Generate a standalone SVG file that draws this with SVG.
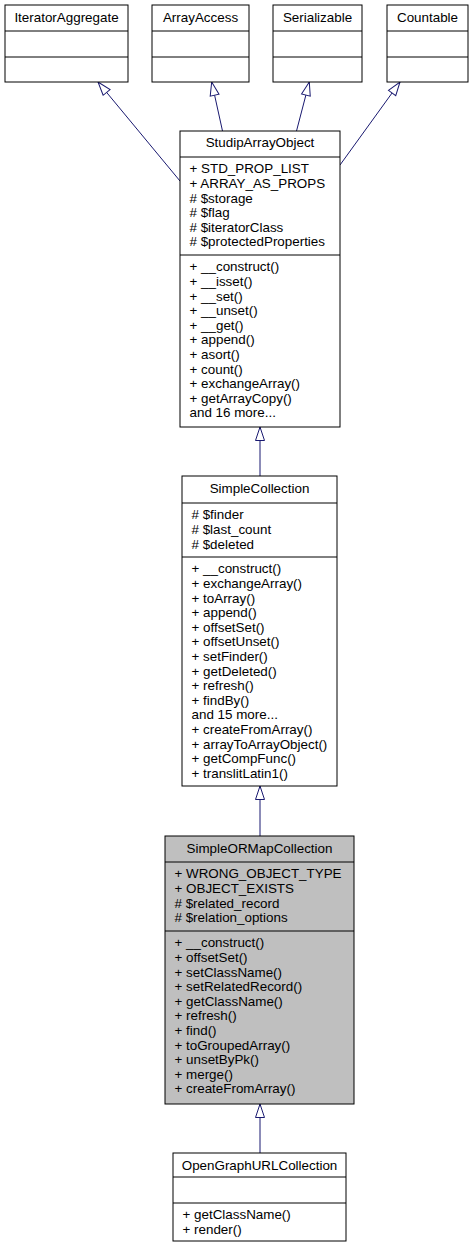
<svg xmlns="http://www.w3.org/2000/svg" width="474" height="1249" viewBox="0 0 474 1249">
<style>
.box{fill:#ffffff;stroke:#000000;stroke-width:1}
.hl{fill:#bfbfbf;stroke:#000000;stroke-width:1}
.sep{stroke:#000000;stroke-width:1}
text{font-family:"Liberation Sans",Arial,sans-serif;font-size:13.4px;fill:#000000}
.t{text-anchor:middle}
.edge{fill:none;stroke:#191970;stroke-width:1;marker-end:url(#inh)}
</style>
<defs>
<marker id="inh" viewBox="0 0 14 10" refX="14" refY="5" markerWidth="14" markerHeight="10" markerUnits="userSpaceOnUse" orient="auto" overflow="visible">
<path d="M0.5,0.5 L14,5 L0.5,9.5 Z" fill="#ffffff" stroke="#191970" stroke-width="1"/>
</marker>
</defs>

<g id="connectors">
<path class="edge" d="M180,181 L98,82"/>
<path class="edge" d="M222.5,131 L211.7,82"/>
<path class="edge" d="M296.5,131 L309.3,82"/>
<path class="edge" d="M340,165 L400,82"/>
<path class="edge" d="M260,476 L260,427"/>
<path class="edge" d="M260,836 L260,786"/>
<path class="edge" d="M260,1153 L260,1104"/>
</g>

<g id="IteratorAggregate">
<rect class="box" x="5" y="5" width="123" height="77"/>
<line class="sep" x1="5" y1="31" x2="128" y2="31"/>
<line class="sep" x1="5" y1="57" x2="128" y2="57"/>
<text class="t" x="66.5" y="22">IteratorAggregate</text>
</g>

<g id="ArrayAccess">
<rect class="box" x="152" y="5" width="97" height="77"/>
<line class="sep" x1="152" y1="31" x2="249" y2="31"/>
<line class="sep" x1="152" y1="57" x2="249" y2="57"/>
<text class="t" x="200.5" y="22">ArrayAccess</text>
</g>

<g id="Serializable">
<rect class="box" x="273" y="5" width="89" height="77"/>
<line class="sep" x1="273" y1="31" x2="362" y2="31"/>
<line class="sep" x1="273" y1="57" x2="362" y2="57"/>
<text class="t" x="317.5" y="22">Serializable</text>
</g>

<g id="Countable">
<rect class="box" x="387" y="5" width="81" height="77"/>
<line class="sep" x1="387" y1="31" x2="468" y2="31"/>
<line class="sep" x1="387" y1="57" x2="468" y2="57"/>
<text class="t" x="427.5" y="22">Countable</text>
</g>

<g id="StudipArrayObject">
<rect class="box" x="180" y="131" width="160" height="296"/>
<line class="sep" x1="180" y1="157" x2="340" y2="157"/>
<line class="sep" x1="180" y1="255" x2="340" y2="255"/>
<text class="t" x="260" y="147">StudipArrayObject</text>
<text x="189.5" y="173.3">+ STD_PROP_LIST</text>
<text x="189.5" y="187.9">+ ARRAY_AS_PROPS</text>
<text x="189.5" y="202.5"># $storage</text>
<text x="189.5" y="217.1"># $flag</text>
<text x="189.5" y="231.7"># $iteratorClass</text>
<text x="189.5" y="246.3"># $protectedProperties</text>
<text x="189.5" y="271.3">+ __construct()</text>
<text x="189.5" y="285.9">+ __isset()</text>
<text x="189.5" y="300.5">+ __set()</text>
<text x="189.5" y="315.1">+ __unset()</text>
<text x="189.5" y="329.7">+ __get()</text>
<text x="189.5" y="344.3">+ append()</text>
<text x="189.5" y="358.9">+ asort()</text>
<text x="189.5" y="373.5">+ count()</text>
<text x="189.5" y="388.1">+ exchangeArray()</text>
<text x="189.5" y="402.7">+ getArrayCopy()</text>
<text x="189.5" y="417.3">and 16 more...</text>
</g>

<g id="SimpleCollection">
<rect class="box" x="182" y="476" width="155" height="310"/>
<line class="sep" x1="182" y1="503" x2="337" y2="503"/>
<line class="sep" x1="182" y1="557" x2="337" y2="557"/>
<text class="t" x="259.5" y="493">SimpleCollection</text>
<text x="191.5" y="519.3"># $finder</text>
<text x="191.5" y="533.9"># $last_count</text>
<text x="191.5" y="548.5"># $deleted</text>
<text x="191.5" y="573.3">+ __construct()</text>
<text x="191.5" y="587.9">+ exchangeArray()</text>
<text x="191.5" y="602.5">+ toArray()</text>
<text x="191.5" y="617.1">+ append()</text>
<text x="191.5" y="631.7">+ offsetSet()</text>
<text x="191.5" y="646.3">+ offsetUnset()</text>
<text x="191.5" y="660.9">+ setFinder()</text>
<text x="191.5" y="675.5">+ getDeleted()</text>
<text x="191.5" y="690.1">+ refresh()</text>
<text x="191.5" y="704.7">+ findBy()</text>
<text x="191.5" y="719.3">and 15 more...</text>
<text x="191.5" y="733.9">+ createFromArray()</text>
<text x="191.5" y="748.5">+ arrayToArrayObject()</text>
<text x="191.5" y="763.1">+ getCompFunc()</text>
<text x="191.5" y="777.7">+ translitLatin1()</text>
</g>

<g id="SimpleORMapCollection">
<rect class="hl" x="165" y="836" width="189" height="268"/>
<line class="sep" x1="165" y1="862" x2="354" y2="862"/>
<line class="sep" x1="165" y1="931" x2="354" y2="931"/>
<text class="t" x="259.5" y="853">SimpleORMapCollection</text>
<text x="174.5" y="878.3">+ WRONG_OBJECT_TYPE</text>
<text x="174.5" y="892.9">+ OBJECT_EXISTS</text>
<text x="174.5" y="907.5"># $related_record</text>
<text x="174.5" y="922.1"># $relation_options</text>
<text x="174.5" y="947.3">+ __construct()</text>
<text x="174.5" y="961.9">+ offsetSet()</text>
<text x="174.5" y="976.5">+ setClassName()</text>
<text x="174.5" y="991.1">+ setRelatedRecord()</text>
<text x="174.5" y="1005.7">+ getClassName()</text>
<text x="174.5" y="1020.3">+ refresh()</text>
<text x="174.5" y="1034.9">+ find()</text>
<text x="174.5" y="1049.5">+ toGroupedArray()</text>
<text x="174.5" y="1064.1">+ unsetByPk()</text>
<text x="174.5" y="1078.7">+ merge()</text>
<text x="174.5" y="1093.3">+ createFromArray()</text>
</g>

<g id="OpenGraphURLCollection">
<rect class="box" x="173" y="1153" width="173" height="88"/>
<line class="sep" x1="173" y1="1177" x2="346" y2="1177"/>
<line class="sep" x1="173" y1="1203" x2="346" y2="1203"/>
<text class="t" x="259.5" y="1170">OpenGraphURLCollection</text>
<text x="182.5" y="1219.3">+ getClassName()</text>
<text x="182.5" y="1233.9">+ render()</text>
</g>
</svg>
